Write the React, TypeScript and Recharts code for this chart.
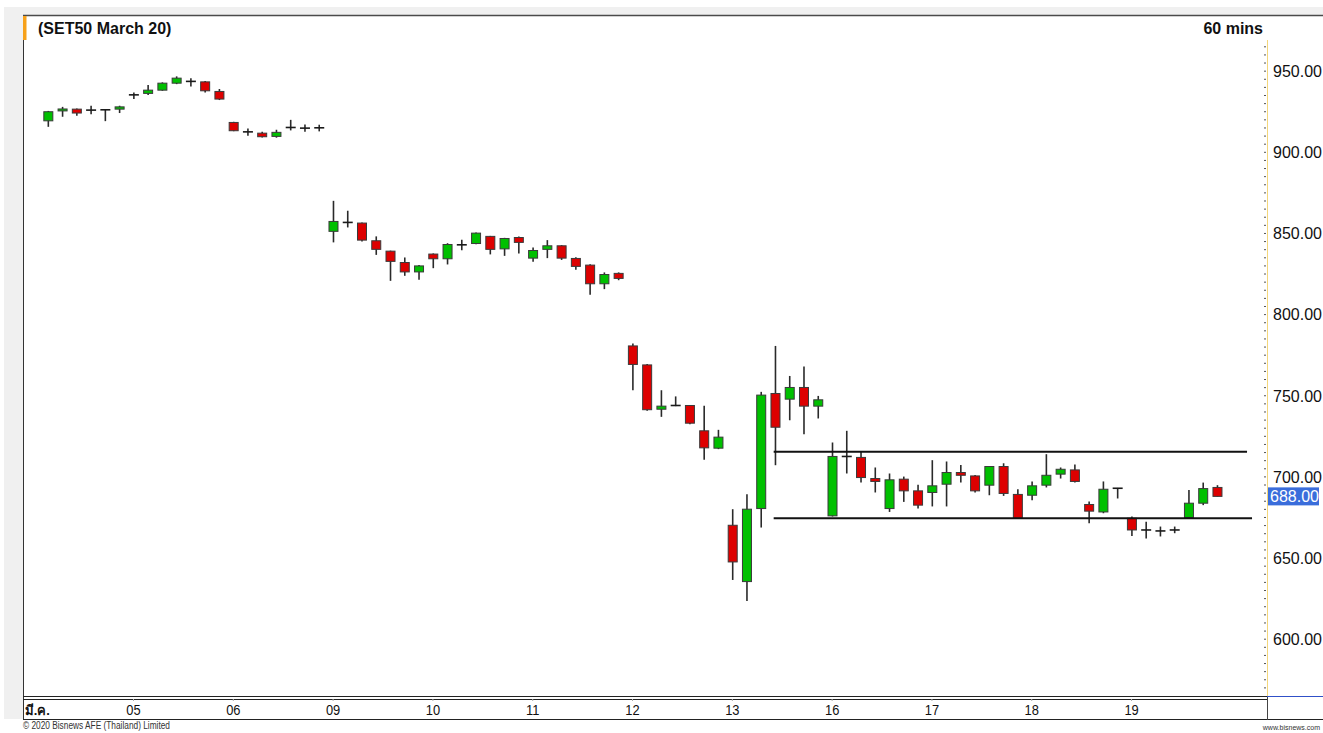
import { ComposedChart, Bar, XAxis, YAxis, ReferenceLine } from 'recharts';

// day labels on the time axis and the slot where each day starts
const dayLabels = ['มี.ค.', '05', '06', '09', '10', '11', '12', '13', '16', '17', '18', '19'];
const dayStartSlots = [0, 7, 14, 21, 28, 35, 42, 49, 56, 63, 70, 77];

// hourly OHLC, one candle per slot (slot = index + 1)
const opens = [
  919.4, 925.5, 926.6, 926.0, 926.2, 926.6, 935.4, 936.3, 938.3, 942.6, 943.7, 943.4, 937.5, 918.4, 912.6, 911.8, 909.8, 915.3, 914.9, 915.1,
  851.3, 856.8, 856.4, 845.5, 839.1, 832.1, 826.3, 837.3, 834.4, 843.0, 843.8, 848.2, 840.5, 847.5, 834.8, 840.2, 842.4, 834.6, 830.5, 819.0, 825.4,
  780.7, 769.0, 741.7, 744.0, 744.0, 728.4, 717.7, 670.2, 635.5, 680.5, 751.4, 747.9, 755.1, 743.6,
  676.0, 712.6, 712.0, 699.0, 680.5, 698.6, 691.4, 690.4, 695.5, 702.7, 700.6, 694.9, 706.4, 689.2,
  688.7, 694.9, 701.7, 704.3, 683.0, 678.4, 693.0, 674.5, 667.3, 666.7, 667.3, 675.0, 683.8, 693.5,
];
const highs = [
  925.5, 928.0, 927.0, 928.7, 926.4, 928.7, 936.9, 941.4, 943.1, 946.8, 945.7, 943.9, 939.0, 918.8, 914.7, 912.6, 913.9, 920.0, 917.2, 917.0,
  870.1, 864.0, 856.8, 848.2, 839.4, 835.2, 830.5, 837.7, 844.0, 846.1, 850.6, 848.5, 847.3, 848.2, 841.4, 845.9, 842.8, 835.4, 831.1, 826.0, 826.0,
  782.2, 769.6, 753.4, 749.6, 744.2, 743.8, 729.0, 680.1, 689.3, 752.4, 780.7, 762.2, 768.0, 749.9,
  721.2, 728.4, 716.0, 705.8, 702.1, 700.2, 695.1, 710.3, 709.5, 707.4, 701.2, 706.6, 708.4, 692.4,
  697.2, 714.0, 705.8, 707.6, 684.8, 697.2, 693.2, 675.6, 672.3, 669.4, 669.4, 692.0, 696.5, 694.9,
];
const lows = [
  915.7, 921.9, 922.5, 923.5, 919.2, 924.2, 932.8, 935.3, 937.9, 942.0, 940.6, 936.9, 932.2, 913.0, 910.2, 909.2, 909.0, 913.5, 912.6, 912.9,
  844.5, 853.7, 845.1, 836.8, 820.8, 823.9, 821.4, 828.6, 830.9, 839.7, 843.4, 837.1, 836.2, 837.7, 832.5, 834.8, 833.7, 827.6, 812.2, 815.7, 821.2,
  753.4, 740.8, 737.0, 743.6, 732.5, 710.5, 717.1, 636.5, 623.6, 668.8, 707.2, 734.9, 726.3, 736.0,
  675.6, 702.1, 696.5, 690.4, 678.4, 684.6, 680.5, 681.8, 681.8, 696.5, 690.4, 688.7, 688.3, 674.3,
  685.6, 693.5, 699.0, 696.5, 671.5, 677.6, 686.7, 663.6, 662.0, 663.3, 665.3, 674.8, 682.6, 687.9,
];
const closes = [
  925.0, 926.7, 924.2, 926.0, 926.2, 928.0, 935.4, 938.3, 942.6, 945.7, 943.7, 937.9, 932.8, 913.3, 912.6, 909.6, 912.3, 915.3, 914.9, 915.1,
  857.4, 856.8, 845.9, 840.2, 832.8, 826.3, 830.0, 834.4, 843.2, 843.0, 850.2, 840.2, 846.9, 844.5, 839.5, 842.4, 834.8, 829.7, 819.0, 824.7, 822.3,
  769.3, 741.4, 743.6, 744.0, 733.1, 717.9, 724.5, 647.6, 680.1, 750.4, 730.6, 755.1, 743.6, 747.5,
  712.6, 712.6, 699.6, 697.2, 698.2, 691.4, 682.6, 694.5, 702.7, 701.0, 691.4, 706.4, 689.8, 674.5,
  694.5, 701.0, 704.7, 697.2, 678.9, 692.4, 693.0, 667.3, 667.3, 666.7, 667.3, 683.8, 692.8, 688.0,
];

// price axis labels
const priceTicks = [600, 650, 700, 750, 800, 850, 900, 950];
const lastPrice = 688;

// trading range drawn on the chart
const resistance = 715.5;
const support = 674.5;
const rangeStartSlot = 51.9;
const resistanceEndSlot = 85.1;
const supportEndSlot = 85.45;

const data = opens.map((o, i) => ({
  slot: i + 1,
  open: o,
  high: highs[i],
  low: lows[i],
  close: closes[i],
}));

const minorTicks: number[] = [];
for (let v = 570; v <= 965; v += 5) minorTicks.push(v);

const Candle = (props: any) => {
  const { x, y, width, height, payload } = props;
  const { open, close, high, low } = payload;
  const top = Math.min(y, y + height);
  const bottom = Math.max(y, y + height);
  const span = high - low || 1;
  const toY = (v: number) => top + ((high - v) / span) * (bottom - top);
  const cx = x + width / 2;
  const bodyTop = toY(Math.max(open, close));
  const bodyBottom = toY(Math.min(open, close));
  const doji = open === close;
  const fill = close >= open ? '#00c000' : '#dd0000';
  return (
    <g>
      <line x1={cx} x2={cx} y1={top} y2={bottom} stroke="#2a2a2a" strokeWidth={1.6} />
      {doji ? (
        <line x1={cx - 5} x2={cx + 5} y1={bodyTop} y2={bodyTop} stroke="#1a1a1a" strokeWidth={1.6} />
      ) : (
        <rect
          x={cx - 4.5}
          y={bodyTop}
          width={9}
          height={Math.max(bodyBottom - bodyTop, 1.5)}
          fill={fill}
          stroke="#3a3a3a"
          strokeWidth={1}
        />
      )}
    </g>
  );
};

const RightTick = ({ x, y, payload }: any) => {
  const v = payload.value;
  const major = priceTicks.includes(v);
  return (
    <g>
      <line x1={x - 3} x2={x - 1} y1={y} y2={y} stroke="#555" />
      {major && (
        <text x={x + 6} y={y} dy="0.36em" fontSize={16} fill="#111" fontFamily="Liberation Sans, Arial, sans-serif">
          {v.toFixed(2)}
        </text>
      )}
    </g>
  );
};

const LeftTick = ({ x, y, payload }: any) => {
  const major = payload.value % 25 === 0;
  return <line x1={x} x2={x + (major ? 4 : 2)} y1={y} y2={y} stroke="#444" />;
};

const DayTick = ({ x, y, payload }: any) => {
  const i = dayStartSlots.indexOf(payload.value);
  const label = dayLabels[i];
  if (i === 0) {
    return (
      <text x={x - 9} y={y + 14} dy="0.35em" fontSize={13} fontWeight="bold" fill="#111">
        {label}
      </text>
    );
  }
  return (
    <g>
      <line x1={x} x2={x} y1={y + 3} y2={y + 5} stroke="#aaa" />
      <g transform={`translate(${x},${y + 14})`}>
        <text x={0} y={0} dy="0.35em" textAnchor="middle" fontSize={15} fill="#111" transform="scale(0.86,1)">
          {label}
        </text>
      </g>
    </g>
  );
};

const PriceTag = ({ viewBox }: any) => {
  if (!viewBox) return null;
  const left = viewBox.x + viewBox.width + 1;
  return (
    <g>
      <rect x={left} y={viewBox.y - 9} width={51} height={18} fill="#3a6ddb" />
      <text x={left + 2} y={viewBox.y} dy="0.36em" fontSize={16} fill="#fff" fontFamily="Liberation Sans, Arial, sans-serif">
        {lastPrice.toFixed(2)}
      </text>
    </g>
  );
};

export default function App() {
  return (
    <div
      style={{
        position: 'relative',
        width: 1323,
        height: 733,
        background: '#fff',
        overflow: 'hidden',
        fontFamily: 'Liberation Sans, Arial, sans-serif',
      }}
    >
      <style>{'body{margin:0}'}</style>
      <svg width={1323} height={733} style={{ position: 'absolute', left: 0, top: 0 }}>
        <rect x={4} y={7} width={1319} height={712} fill="#f0f0f0" />
        <rect x={23} y={16} width={1300} height={704} fill="#fff" />
        <line x1={23} x2={1323} y1={15.5} y2={15.5} stroke="#4a4a4a" strokeWidth={1.5} />
        <line x1={23.5} x2={23.5} y1={16} y2={720} stroke="#333" />
        <rect x={23} y={16} width={3.5} height={24} fill="#f7a11a" />
        <line x1={1267.5} x2={1267.5} y1={40} y2={696} stroke="#f3d67a" />
        <line x1={23} x2={1267} y1={696.5} y2={696.5} stroke="#222" />
        <line x1={1267} x2={1323} y1={696.5} y2={696.5} stroke="#3050c8" />
        <line x1={23} x2={1267} y1={699.5} y2={699.5} stroke="#222" />
        <line x1={23} x2={1323} y1={719.5} y2={719.5} stroke="#222" />
        <line x1={1267.5} x2={1267.5} y1={697} y2={720} stroke="#444" />
        <text x={38} y={34} fontSize={16} fontWeight="bold" fill="#111">
          (SET50 March 20)
        </text>
        <text x={1263} y={34} fontSize={16} fontWeight="bold" fill="#111" textAnchor="end">
          60 mins
        </text>
        <text x={23} y={729} fontSize={10} fill="#333" textLength={147} lengthAdjust="spacingAndGlyphs">
          © 2020 Bisnews AFE (Thailand) Limited
        </text>
        <text x={1320} y={730} fontSize={7} fill="#333" textAnchor="end">
          www.bisnews.com
        </text>
      </svg>
      <div style={{ position: 'absolute', left: 0, top: 0 }}>
        <ComposedChart width={1323} height={733} data={data} margin={{ top: 40, right: 0, left: 23, bottom: 13 }}>
          <XAxis
            dataKey="slot"
            type="number"
            domain={[-0.75, 86.5]}
            ticks={dayStartSlots}
            interval={0}
            height={24}
            axisLine={false}
            tickLine={false}
            tickSize={0}
            tickMargin={0}
            tick={<DayTick />}
            allowDataOverflow
          />
          <YAxis
            yAxisId="left"
            orientation="left"
            width={0}
            domain={[565, 969.2]}
            ticks={minorTicks}
            interval={0}
            axisLine={false}
            tickLine={false}
            tickSize={0}
            tickMargin={0}
            tick={<LeftTick />}
            allowDataOverflow
          />
          <YAxis
            yAxisId="right"
            orientation="right"
            width={56}
            domain={[565, 969.2]}
            ticks={minorTicks}
            interval={0}
            axisLine={false}
            tickLine={false}
            tickSize={0}
            tickMargin={0}
            tick={<RightTick />}
            allowDataOverflow
          />
          <Bar
            yAxisId="right"
            dataKey={(d: any) => [d.low, d.high]}
            barSize={9}
            shape={<Candle />}
            isAnimationActive={false}
          />
          <ReferenceLine
            yAxisId="right"
            segment={[{ x: rangeStartSlot, y: resistance }, { x: resistanceEndSlot, y: resistance }]}
            stroke="#111"
            strokeWidth={2}
          />
          <ReferenceLine
            yAxisId="right"
            segment={[{ x: rangeStartSlot, y: support }, { x: supportEndSlot, y: support }]}
            stroke="#111"
            strokeWidth={2}
          />
          <ReferenceLine yAxisId="right" y={lastPrice} stroke="none" label={<PriceTag />} />
        </ComposedChart>
      </div>
    </div>
  );
}
